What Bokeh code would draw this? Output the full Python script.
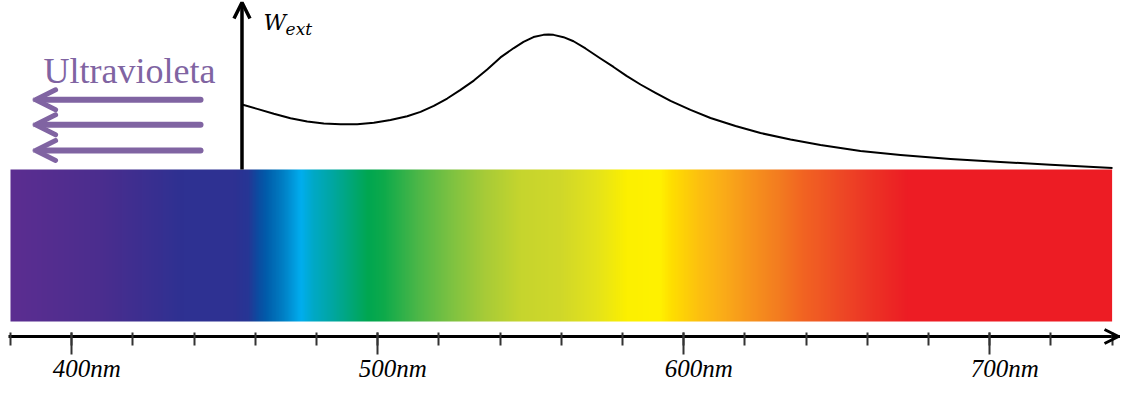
import numpy as np
from bokeh.plotting import figure
from bokeh.models import (LinearAxis, SingleIntervalTicker, CustomJSTickFormatter,
                          Arrow, OpenHead, Label, Range1d)
from bokeh.core.properties import value
from bokeh.embed import file_html
from bokeh.resources import INLINE

# ---- data -------------------------------------------------------------
# visible-spectrum colour stops (wavelength nm -> colour)
stop_nm = [380.0, 409.4, 436.5, 452.9, 457.5, 460.7, 464.0, 469.2, 474.8, 479.0,
           485.6, 496.7, 501.9, 513.0, 523.8, 534.6, 546.7, 559.7, 571.7, 581.3,
           592.1, 595.7, 605.2, 611.2, 621.8, 631.6, 638.8, 650.6, 661.4, 673.5, 740.0]
stop_hex = ["#5C2D91", "#4B2D8E", "#2E3192", "#2E3192", "#273695", "#0D4CA1",
            "#0060AD", "#0081C6", "#00AEEF", "#00A9C6", "#00A69F", "#00A651",
            "#0EAA4B", "#4CB748", "#7DC242", "#A6CB38", "#C6D52E", "#D0D82A",
            "#E5E31B", "#FCF000", "#FFF200", "#FFE000", "#FDC010", "#FBB117",
            "#F7941D", "#F37B20", "#F26522", "#EE4A25", "#EC3325", "#ED1C24", "#ED1C24"]

# extinction curve W_ext (arbitrary units) vs wavelength (nm)
curve_nm = [455.65, 460.62, 466.05, 471.50, 476.96, 482.39, 487.84, 493.30, 498.73,
            504.18, 509.64, 513.99, 518.33, 522.71, 527.06, 531.41, 535.78, 540.13,
            544.48, 547.65, 550.92, 554.18, 555.82, 557.45, 560.72, 563.99, 567.91,
            572.81, 577.06, 581.31, 585.88, 590.78, 595.69, 602.22, 608.76, 616.93,
            625.10, 634.90, 644.71, 657.78, 670.85, 687.19, 703.53, 719.87, 740.13]
curve_w = [0.478, 0.446, 0.410, 0.377, 0.353, 0.338, 0.332, 0.333, 0.343,
           0.364, 0.392, 0.424, 0.468, 0.522, 0.586, 0.654, 0.735, 0.824,
           0.893, 0.938, 0.974, 0.990, 0.993, 0.990, 0.973, 0.943, 0.890,
           0.816, 0.754, 0.688, 0.625, 0.563, 0.504, 0.438, 0.379, 0.320,
           0.268, 0.221, 0.180, 0.136, 0.107, 0.077, 0.055, 0.035, 0.011]

major_interval = 100
minor_per_major = 5
label_nm = [400, 500, 600, 700]
label_text = ["400nm", "500nm", "600nm", "700nm"]

uv_text = "Ultravioleta"
w_main = "W"
w_sub = "ext"

# ---- figure -----------------------------------------------------------
px_per_nm = 3.06
x_start = 380 - 10 / px_per_nm
x_end = x_start + 1120 / px_per_nm

p = figure(width=1120, height=382, output_backend="svg", toolbar_location=None,
           x_axis_type=None, y_axis_type=None, title=None,
           x_range=Range1d(x_start, x_end), y_range=Range1d(-1.56618, 1.24265),
           min_border=0, min_border_left=0, min_border_right=0,
           min_border_top=0, min_border_bottom=0)
p.outline_line_color = None
p.background_fill_color = "white"
p.border_fill_color = "white"

# spectrum bar as an image built from the colour stops
def hex2rgb(h):
    return [int(h[i:i + 2], 16) for i in (1, 3, 5)]

rgb = np.array([hex2rgb(h) for h in stop_hex], dtype=float)
xs = np.linspace(stop_nm[0], stop_nm[-1], 1441)
img = np.empty((2, len(xs)), dtype=np.uint32)
view = img.view(dtype=np.uint8).reshape((2, len(xs), 4))
for c in range(3):
    view[:, :, c] = np.interp(xs, stop_nm, rgb[:, c]).astype(np.uint8)[None, :]
view[:, :, 3] = 255
bar_bottom = -1.11765
p.image_rgba(image=[img], x=stop_nm[0], y=bar_bottom,
             dw=stop_nm[-1] - stop_nm[0], dh=-bar_bottom)

# extinction curve
p.line(curve_nm, curve_w, line_color="black", line_width=2, line_join="round")

# x axis placed at a fixed location inside the frame
axis_y = -1.22794
xaxis = LinearAxis(
    ticker=SingleIntervalTicker(interval=major_interval, num_minor_ticks=minor_per_major),
    formatter=CustomJSTickFormatter(code="return ''"),
    fixed_location=axis_y, bounds=(379.4, x_end),
    axis_line_width=3, axis_line_color="black",
    major_tick_in=4, major_tick_out=18, major_tick_line_width=2,
    major_tick_line_color="#333333",
    minor_tick_in=4, minor_tick_out=9, minor_tick_line_width=2,
    minor_tick_line_color="#333333",
    major_label_text_font_size="1px")
p.add_layout(xaxis, "below")

# tick labels (slightly right of their ticks, as in the original)
p.text(x=label_nm, y=[-1.5603] * len(label_nm), text=label_text,
       x_offset=15, text_align="center", text_baseline="bottom",
       text_font=value("Liberation Serif"), text_font_style="italic",
       text_font_size="25px", text_color="black")

# x axis arrow head
p.add_layout(Arrow(end=OpenHead(size=14, line_width=3, line_color="black"),
                   x_start=stop_nm[-1], y_start=axis_y, x_end=742.1, y_end=axis_y,
                   line_width=3, line_color="black"))

# y axis arrow
y_axis_x = curve_nm[0]
p.add_layout(Arrow(end=OpenHead(size=16, line_width=3.5, line_color="black"),
                   x_start=y_axis_x, y_start=0, x_end=y_axis_x, y_end=1.22794,
                   line_width=3.5, line_color="black"))

# W_ext label
p.add_layout(Label(x=462.7, y=0.991, text=w_main, text_font="DejaVu Serif",
                   text_font_style="italic", text_font_size="22px",
                   text_color="black", text_baseline="bottom", text_align="left"))
p.add_layout(Label(x=469.9, y=0.963, text=w_sub, text_font="DejaVu Serif",
                   text_font_style="italic", text_font_size="17px",
                   text_color="black", text_baseline="bottom", text_align="left"))

# Ultraviolet label and arrows
uv_color = "#8064A2"
p.add_layout(Label(x=390.8, y=0.575, text=uv_text, text_font="Liberation Serif",
                   text_font_size="36px", text_color=uv_color,
                   text_baseline="bottom", text_align="left"))
for yy in (0.5125, 0.3287, 0.1397):
    p.add_layout(Arrow(end=OpenHead(size=20, line_width=5, line_color=uv_color,
                                    line_cap="round", line_join="round"),
                       x_start=442.1, y_start=yy, x_end=388.2, y_end=yy,
                       line_width=6, line_color=uv_color, line_cap="round"))

open("out.html", "w").write(file_html(p, INLINE))
